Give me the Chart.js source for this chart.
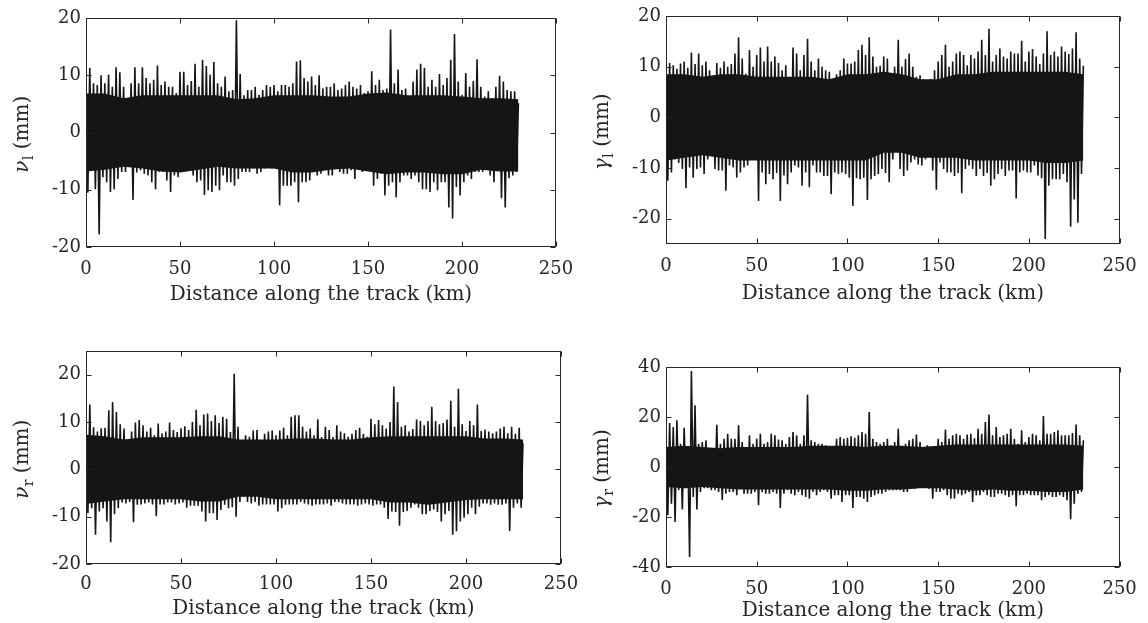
<!DOCTYPE html>
<html>
<head>
<meta charset="utf-8">
<script src="https://cdn.jsdelivr.net/npm/chart.js@4.4.1/dist/chart.umd.min.js"></script>
<style>
  html, body { margin: 0; padding: 0; background: #fff; }
  #wrap { position: relative; width: 1148px; height: 623px; overflow: hidden; }
  #wrap canvas { position: absolute; left: 0; top: 0; }
</style>
</head>
<body>
<div id="wrap">
  <canvas id="c1" width="1148" height="623"></canvas>
  <canvas id="c2" width="1148" height="623"></canvas>
  <canvas id="c3" width="1148" height="623"></canvas>
  <canvas id="c4" width="1148" height="623"></canvas>
</div>
<script>
// ---- data ----
// envelope of each record: peaks at even km (0..230), troughs at odd km (1..229)
const KM_TICKS = [0, 50, 100, 150, 200, 250];
const CORE_KM = [0, 10, 20, 30, 40, 50, 60, 70, 80, 90, 100, 110, 120, 130, 140, 150, 160, 170, 180, 190, 200, 210, 220, 230];

// nu_l (top left)
const nuLTicks = [-20, -10, 0, 10, 20];
const nuLHi = [8, 11.3, 8.6, 8.3, 10, 8.6, 10.1, 8, 11.4, 10.5,
  8, 5.1, 8.6, 11.4, 8.6, 11.4, 9.5, 8.6, 9.2, 11.7,
  8.3, 8.9, 8, 8, 6.9, 10.6, 10.6, 8.3, 9, 12,
  8, 12.7, 11.6, 10.1, 12.3, 8.6, 8, 9.8, 7.2, 7.4,
  19.6, 10.2, 6.5, 7.4, 7.4, 8, 6.6, 7.4, 8.3, 8,
  8.3, 7.2, 8.3, 8.3, 8, 8.6, 12.4, 12.6, 9.5, 8.9,
  9.8, 8.3, 10, 7.7, 8, 8, 8.6, 7.4, 7.7, 8.3,
  8.9, 8, 7.7, 8.3, 6.9, 7.2, 10.7, 8.3, 9.2, 7.4,
  7.7, 18, 8.6, 11, 7.4, 7.7, 5.5, 8.9, 11, 12,
  11.3, 8, 9.2, 8, 10.2, 8.3, 9.5, 12.7, 17.2, 8.9,
  6.6, 10.4, 8, 9, 12.8, 8, 6.3, 7.2, 6, 8,
  9.9, 8.9, 7.4, 7.2, 7.2, 5.1];
const nuLLo = [-10.5, -6.3, -9.9, -17.8, -7.8, -8.7, -10.4, -9.9, -8.1, -6.9,
  -6.9, -4, -11.8, -7, -6.6, -7.2, -7.5, -8.7, -9.9, -6.9,
  -6.9, -8.4, -10.4, -7.5, -7.8, -6.9, -6.6, -6.6, -7.5, -8.7,
  -8.4, -10.9, -10.1, -10.4, -9.3, -10.1, -7.5, -8.7, -8.7, -9.3,
  -8.1, -6.9, -6.9, -6.9, -6.3, -7.2, -6.9, -6.3, -6, -6.3,
  -6.3, -12.7, -9.3, -9.3, -9.3, -8.7, -12.2, -8.7, -8.7, -8.4,
  -6.6, -7.5, -7.2, -6.3, -7.5, -7.5, -6.3, -6.9, -7.2, -7.2,
  -6.6, -8.1, -5.2, -6.9, -6.6, -6.6, -9.3, -8.1, -7.2, -11,
  -9.3, -8.7, -11.3, -8.7, -7.5, -7.5, -8.1, -7.5, -8.7, -9.9,
  -9.9, -10.4, -8.7, -10.1, -8.7, -8.7, -13.1, -15, -9.5, -11,
  -8.7, -7.5, -8.1, -6.9, -6.9, -6.9, -6.3, -7.5, -8.7, -5.2,
  -11.5, -13.1, -8, -7.5, -6.9];
const nuLCoreHi = [6.8, 6.8, 6, 6.5, 6.5, 6.5, 6.5, 6.5, 5.8, 6, 6.5, 6.5, 6.5, 6.3, 6.3, 6.8, 7, 6.5, 6.5, 6.5, 6.3, 6, 6, 5.8];
const nuLCoreLo = [-6.8, -6.5, -6, -6.3, -6.8, -7, -6.5, -6, -6.3, -6.3, -6.3, -7, -7, -6.5, -6.3, -6.8, -7.3, -7, -7, -7.3, -7.3, -6.5, -6.8, -6.8];

// gamma_l (top right)
const gaLTicks = [-20, -10, 0, 10, 20];
const gaLHi = [11.7, 10.7, 10.3, 9.6, 10.6, 11, 9.8, 12.8, 10.5, 12.6,
  10.3, 11, 9.3, 7.5, 10.7, 9.8, 11, 10, 10.5, 12.6,
  15.8, 11.6, 8.6, 13.3, 10, 12.3, 13.8, 11, 14, 11,
  12, 10.7, 9.3, 10.3, 7.3, 13.8, 12.6, 9.3, 12.3, 15.5,
  11, 9.3, 11.6, 10, 9.3, 9, 6.7, 8.5, 9.3, 11.6,
  10.6, 10.6, 11, 13.3, 14.3, 12.3, 15.8, 12, 10, 10.2,
  12, 11.6, 8.3, 10, 15.3, 10, 11.5, 12.6, 10, 8,
  8.3, 7.5, 6.8, 7.5, 9.3, 11, 12.3, 14.3, 10, 11,
  12.6, 13, 12.3, 10.3, 12.3, 11.6, 13, 15.3, 12.3, 17.5,
  11, 12.3, 13.6, 12, 11.6, 13, 12.6, 12.6, 15.1, 11,
  13, 13.5, 12, 10.5, 12.6, 17, 12.3, 13, 12, 14,
  13, 12.5, 13.6, 16.8, 11.6, 10.2];
const gaLLo = [-12.5, -10.9, -8.3, -9, -10.2, -14, -9.9, -11.9, -10.2, -9.9,
  -11.2, -8.3, -5.6, -10.2, -10.5, -10.5, -14.5, -9.5, -9.9, -11.9,
  -10.9, -9.9, -9.5, -6.9, -7.5, -16.5, -10.9, -13.2, -11.2, -12.2,
  -11, -16.5, -11.5, -13.2, -10.9, -9.5, -9.9, -13.5, -10.9, -13.8,
  -9.5, -10.9, -10.9, -11.6, -11.6, -15.2, -10.9, -11.2, -10.9, -11.2,
  -11.9, -17.5, -12, -12.2, -11.9, -16.3, -12.2, -11.6, -11.2, -10.2,
  -11, -12.8, -8.3, -6.6, -10.2, -11.6, -10.5, -8.9, -8.3, -9.3,
  -9.5, -8.3, -7.6, -10.5, -14.3, -8.9, -10.2, -10.9, -10.9, -11.6,
  -11, -15, -10.2, -9.5, -10.2, -11.6, -10.2, -11.6, -11, -13.5,
  -12.2, -11.2, -10.2, -11.6, -10.5, -10.5, -16, -10.9, -10.5, -10.9,
  -10.9, -9.5, -11.5, -12, -24, -13.5, -12.2, -12.2, -12.2, -11.2,
  -12.8, -21.6, -16.2, -20.8, -11.2];
const gaLCoreHi = [8.5, 8.5, 8, 8.5, 8.5, 8, 8, 8, 8, 7.5, 8.5, 8.5, 9, 8.5, 7.5, 7.5, 8.5, 8.5, 9, 9, 9, 9, 9, 8.5];
const gaLCoreLo = [-8.5, -8, -7.5, -8, -8.5, -8.5, -8.5, -8.5, -8.5, -8.5, -8.5, -8.5, -7, -7, -8, -8, -8, -8.5, -8.5, -8.5, -8.5, -9, -9, -8.5];

// nu_r (bottom left)
const nuRTicks = [-20, -10, 0, 10, 20];
const nuRHi = [9.3, 13.7, 8.9, 8, 8.7, 8.8, 12.5, 14.2, 12.1, 9.5,
  8.6, 5.5, 8, 9.9, 10.4, 9.3, 8, 8.8, 7.2, 9.7,
  7.6, 8, 9.9, 8.3, 7.9, 8.7, 9.1, 8.3, 10, 12.6,
  9.3, 11.6, 11.8, 10.2, 11.4, 9.8, 11.1, 10.7, 7.9, 20.2,
  9, 4.5, 7.2, 6.9, 8.2, 8.3, 6.2, 7.5, 8, 8.2,
  7.2, 8.2, 8.8, 7.2, 11.1, 11.4, 11.4, 9, 8, 8.6,
  7.2, 10.6, 6.8, 9, 8.3, 6.8, 9.3, 8, 7.6, 6.9,
  7.5, 8.3, 8.8, 7.5, 6.9, 10.7, 9.5, 10.4, 9.3, 8.6,
  10, 17.5, 14.2, 9, 9.3, 8, 8.5, 10.5, 10.2, 9.3,
  10.2, 13.2, 10.2, 9.5, 9.8, 10.5, 14.5, 9, 17, 9.5,
  8.1, 10.2, 9.3, 13.7, 8.1, 8.4, 8, 7.6, 8, 8.6,
  9, 7.6, 9, 7.5, 8.8, 5.5];
const nuRLo = [-9.3, -8.2, -13.8, -8.9, -8.2, -11, -15.4, -9.5, -8.2, -7,
  -7.2, -6.9, -11.2, -7.5, -7.4, -7.2, -7, -7.4, -9.9, -7.4,
  -7.4, -7, -7, -7.4, -7.2, -7, -8.1, -7.7, -7.7, -7.7,
  -8.9, -11, -9.3, -9.3, -10.7, -8.6, -7.5, -8.2, -8, -10,
  -6.9, -5.8, -6.9, -7.2, -6.9, -7.7, -7.4, -7.4, -7.4, -7.4,
  -8.9, -8.2, -7.5, -7.4, -7.4, -7.4, -6.9, -7.2, -7.4, -7.7,
  -7.4, -7.4, -7.4, -7.2, -7.7, -6.9, -6.9, -7.2, -7.4, -7.4,
  -7.4, -7.7, -7.4, -7.2, -7.4, -7.7, -7.4, -7.4, -8.1, -10.5,
  -8.9, -9, -11.9, -9, -8.8, -8.1, -7.4, -8.1, -9.5, -9.5,
  -8.8, -8.5, -9, -11, -9.5, -8.8, -13.8, -13.1, -11, -10.2,
  -9.5, -8.1, -9.5, -7.9, -7.2, -7.2, -7.5, -7.2, -7.5, -7.5,
  -7.2, -13, -8.1, -7.2, -8.1];
const nuRCoreHi = [7.3, 7, 6.3, 6.8, 6.8, 6.8, 7, 7, 6.3, 6.3, 6.3, 6.5, 6.5, 6.3, 6.3, 6.8, 7, 7, 7, 7, 7, 6.5, 6.5, 6.3];
const nuRCoreLo = [-7.3, -6.8, -6.3, -6.3, -6.3, -6.3, -6.8, -6.8, -5.8, -5.8, -6.3, -6.3, -6.3, -6.3, -6.3, -6.3, -7, -7, -7.5, -7, -6.5, -6.3, -6.3, -6.3];

// gamma_r (bottom right)
const gaRTicks = [-40, -20, 0, 20, 40];
const gaRHi = [8, 17.6, 16, 18.7, 9.3, 15.7, 8, 38.4, 24.7, 9.3,
  10, 10.7, 7.3, 6.7, 16.9, 9.3, 11.3, 13.3, 11.3, 11.3,
  16.7, 10, 8, 12.7, 9.3, 11.3, 13.3, 9.3, 10, 13.3,
  12.7, 11, 10.7, 9.3, 12, 14, 12.7, 9.3, 12.7, 28.9,
  10.7, 10, 9.3, 9.3, 8.7, 7.3, 8, 11.3, 12, 11.3,
  11.7, 12.3, 11.7, 12.7, 14, 13.3, 22, 11.3, 10, 9.3,
  10, 11.3, 8.7, 10, 15.3, 8, 9.3, 10.7, 11.3, 13,
  10, 8, 8.7, 7.3, 6.7, 11.3, 10, 15, 11.3, 12.7,
  13.3, 12.7, 11.3, 13, 13.3, 11.5, 15.3, 13.3, 18, 21,
  12.7, 16, 12, 12.7, 13.3, 15.3, 11.3, 9.3, 14.7, 10,
  12, 13.3, 12.7, 10.7, 20.4, 13.3, 13.3, 14, 14.7, 12.7,
  12.7, 12.7, 13.6, 17, 12.7, 10.7];
const gaRLo = [-19.3, -14.7, -22, -9.3, -16.9, -8.5, -36, -12, -17, -10,
  -8.5, -8.5, -9.3, -9.3, -10, -13.3, -10.7, -10, -10, -11.3,
  -8.7, -10.7, -10.7, -10.7, -10, -15.3, -10, -10.7, -10.7, -10,
  -10.7, -16.4, -10.7, -9.3, -10.7, -11.3, -10, -11.3, -12, -12.7,
  -10, -11.3, -10, -9.3, -10, -12.7, -11.3, -11.3, -14, -11.3,
  -11.3, -16.4, -12, -12, -12.7, -14, -12, -11.3, -10.7, -10.7,
  -10, -9.3, -9.3, -9.3, -9.3, -10, -10, -8.7, -8.7, -8,
  -8, -8, -8.7, -12.7, -10, -10, -9.3, -11.3, -12.7, -12.7,
  -10.7, -11.3, -10.7, -10, -14, -11.3, -11.3, -10, -11.3, -12,
  -12, -10.7, -10.7, -11.3, -12, -11.3, -15.7, -11.3, -11.3, -10.7,
  -11.3, -11.3, -11.3, -13.3, -12, -11.3, -12, -12, -11.3, -12,
  -13.3, -20.9, -14.7, -10.7, -10];
const gaRCoreHi = [8, 8.5, 8, 7.5, 8, 8, 8, 8, 8.5, 8.5, 8.5, 8, 8.5, 8.5, 8, 8.5, 9, 9, 9, 9, 9, 9, 9, 8.5];
const gaRCoreLo = [-8, -8.5, -8, -8.5, -9, -9, -9, -9, -9, -9, -9.5, -9.5, -9, -9, -8.5, -8.5, -9, -9.5, -9, -9.5, -9.5, -10, -10, -9];

// ---- look ----
const INK = '#151515';
const TXT = '#262626';
const FAM = '"DejaVu Serif", serif';
const TICK_FS = 18;
const TITLE_FS = 20;
const TICK_LH = TICK_FS * 1.2;
const TITLE_LH = TITLE_FS * 1.2;
const CW = 1148, CH = 623;

// inner ticks + box, and the y title with its subscript
const framePlugin = {
  id: 'frame',
  afterDraw(chart, args, opts) {
    const { ctx, chartArea: a, scales: { x, y } } = chart;
    const L = Math.round(a.left) + 0.5, R = Math.round(a.right) - 0.5;
    const T = Math.round(a.top) + 0.5, B = Math.round(a.bottom) - 0.5;
    const tl = 5;
    ctx.save();
    ctx.strokeStyle = TXT;
    ctx.lineWidth = 1;
    ctx.beginPath();
    x.ticks.forEach(t => {
      const px = Math.round(x.getPixelForValue(t.value)) + 0.5;
      ctx.moveTo(px, B); ctx.lineTo(px, B - tl);
      ctx.moveTo(px, T); ctx.lineTo(px, T + tl);
    });
    y.ticks.forEach(t => {
      const py = Math.round(y.getPixelForValue(t.value)) + 0.5;
      ctx.moveTo(L, py); ctx.lineTo(L + tl, py);
      ctx.moveTo(R, py); ctx.lineTo(R - tl, py);
    });
    ctx.stroke();
    ctx.strokeRect(L, T, R - L, B - T);

    // y title: symbol, subscript, unit
    const cx = a.left - 58, cy = (a.top + a.bottom) / 2 + 2;
    ctx.translate(cx, cy);
    ctx.rotate(-Math.PI / 2);
    ctx.fillStyle = TXT;
    ctx.textBaseline = 'alphabetic';
    ctx.textAlign = 'left';
    const fMain = 'italic ' + TITLE_FS + 'px ' + FAM;
    const fSub = Math.round(TITLE_FS * 0.7) + 'px ' + FAM;
    const fRest = TITLE_FS + 'px ' + FAM;
    const rest = ' (mm)';
    ctx.font = fMain; const w1 = ctx.measureText(opts.sym).width;
    ctx.font = fSub; const w2 = ctx.measureText(opts.sub).width;
    ctx.font = fRest; const w3 = ctx.measureText(rest).width;
    let tx = -(w1 + w2 + w3) / 2;
    ctx.font = fMain; ctx.fillText(opts.sym, tx, 0); tx += w1 + 0.5;
    ctx.font = fSub; ctx.fillText(opts.sub, tx, 5); tx += w2;
    ctx.font = fRest; ctx.fillText(rest, tx, 0);
    ctx.restore();
  }
};

const panels = [
  { id: 'c1', sym: 'ν', sub: 'l', hi: nuLHi, lo: nuLLo, coreHi: nuLCoreHi, coreLo: nuLCoreLo,
    yMin: -20, yMax: 20, yTicks: nuLTicks, box: [86, 18, 556, 247], tickOff: 22, titleOff: 48 },
  { id: 'c2', sym: 'γ', sub: 'l', hi: gaLHi, lo: gaLLo, coreHi: gaLCoreHi, coreLo: gaLCoreLo,
    yMin: -25, yMax: 20, yTicks: gaLTicks, box: [666, 16, 1128, 244], tickOff: 22, titleOff: 50 },
  { id: 'c3', sym: 'ν', sub: 'r', hi: nuRHi, lo: nuRLo, coreHi: nuRCoreHi, coreLo: nuRCoreLo,
    yMin: -20, yMax: 25, yTicks: nuRTicks, box: [86, 351, 561, 564], tickOff: 20, titleOff: 45 },
  { id: 'c4', sym: 'γ', sub: 'r', hi: gaRHi, lo: gaRLo, coreHi: gaRCoreHi, coreLo: gaRCoreLo,
    yMin: -40, yMax: 40, yTicks: gaRTicks, box: [666, 367, 1122, 568], tickOff: 22, titleOff: 44 }
];

function makePanel(p) {
  // peaks at even km, troughs at the odd km between them
  const trace = [];
  p.hi.forEach((v, i) => {
    trace.push({ x: 2 * i, y: v });
    if (i < p.lo.length) trace.push({ x: 2 * i + 1, y: p.lo[i] });
  });
  const [L, T, R, B] = p.box;
  const yW = 60;
  const xH = p.titleOff + TITLE_LH / 2;
  const tickFont = { family: FAM, size: TICK_FS };
  const titleFont = { family: FAM, size: TITLE_FS };

  new Chart(document.getElementById(p.id), {
    type: 'line',
    data: {
      datasets: [
        { data: CORE_KM.map((k, i) => ({ x: k, y: p.coreHi[i] })), fill: '+1',
          backgroundColor: INK, borderWidth: 0, pointRadius: 0 },
        { data: CORE_KM.map((k, i) => ({ x: k, y: p.coreLo[i] })), fill: false,
          borderWidth: 0, pointRadius: 0 },
        { data: trace, borderColor: INK, borderWidth: 1.6, pointRadius: 0, fill: false, tension: 0 }
      ]
    },
    options: {
      responsive: false,
      animation: false,
      events: [],
      layout: { padding: { left: L - yW, top: T, right: CW - R, bottom: Math.max(0, CH - xH - B) } },
      plugins: {
        legend: { display: false },
        tooltip: { enabled: false },
        frame: { sym: p.sym, sub: p.sub }
      },
      scales: {
        x: {
          type: 'linear', min: 0, max: 250,
          afterBuildTicks: s => { s.ticks = KM_TICKS.map(v => ({ value: v })); },
          afterFit: s => { s.height = xH; },
          grid: { display: false, drawTicks: false },
          border: { display: false },
          ticks: { color: TXT, font: tickFont, padding: p.tickOff - TICK_LH / 2, maxRotation: 0, autoSkip: false,
            callback: v => String(v) },
          title: { display: true, text: 'Distance along the track (km)', color: TXT, font: titleFont, padding: 0 }
        },
        y: {
          type: 'linear', min: p.yMin, max: p.yMax,
          afterBuildTicks: s => { s.ticks = p.yTicks.map(v => ({ value: v })); },
          afterFit: s => { s.width = yW; },
          grid: { display: false, drawTicks: false },
          border: { display: false },
          ticks: { color: TXT, font: tickFont, padding: 5, autoSkip: false, callback: v => String(v) }
        }
      }
    },
    plugins: [framePlugin]
  });
}

panels.forEach(makePanel);
</script>
</body>
</html>
